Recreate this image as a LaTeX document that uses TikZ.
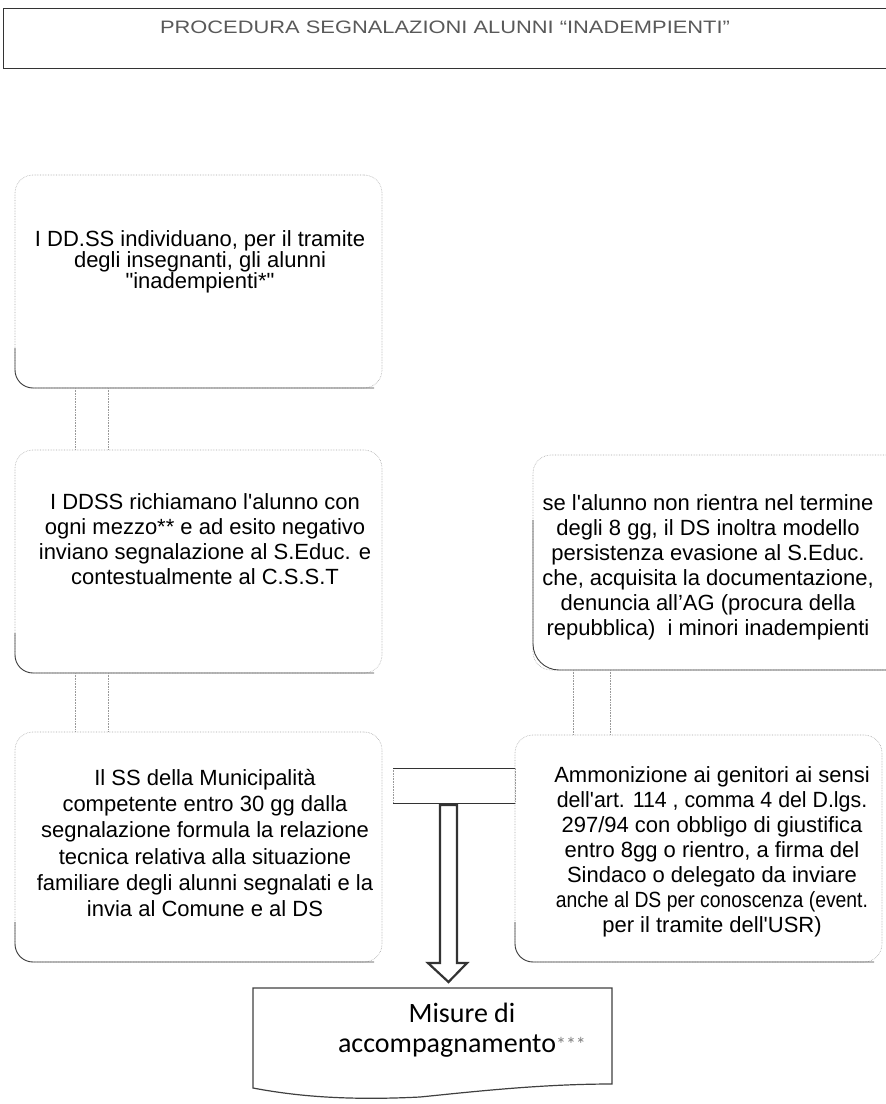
\documentclass[tikz,border=0pt]{standalone}
\usepackage{fontspec}
\setmainfont{Liberation Sans}
\newfontfamily\calfont{Carlito}
\usetikzlibrary{calc}
\newcommand\sq{\textquotesingle}
\newcommand\dq{\textquotedbl}
\begin{document}
\begin{tikzpicture}[x=1pt,y=-1pt,
  card/.style={draw=black!35, densely dotted, line width=0.6pt, rounded corners=18pt, outer sep=0pt, inner sep=0pt},
  cardbase/.style={draw=black!75, line width=0.9pt, rounded corners=18pt},
  boxtext/.style={align=center, inner sep=0pt, font=\fontsize{22}{25}\selectfont},
  link/.style={draw=black!40, densely dotted, line width=0.6pt},
  bar/.style={draw=black!80, line width=0.9pt},
  hollowarrow/.style={draw=black!80, line width=2.2pt, fill=white, line join=miter},
  doc/.style={draw=black!75, line width=1.2pt, fill=white},
  titlebox/.style={draw=black!80, line width=0.8pt, outer sep=0pt, inner sep=0pt}]
\useasboundingbox (0,0) rectangle (886,1104);
\clip (0,0) rectangle (886,1104);

% title
\node[titlebox, anchor=north west, minimum width=900pt, minimum height=60pt] (title) at (3,8) {};
\node[inner sep=0pt, text=black!65, font=\fontsize{18}{20}\selectfont] (tt) at (445,27)
  {\scalebox{1.215}[1]{PROCEDURA SEGNALAZIONI ALUNNI “INADEMPIENTI”}};

% boxes
\node[card, anchor=north west, minimum width=367pt, minimum height=213pt] (b1) at (15,175) {};
\node[card, anchor=north west, minimum width=367pt, minimum height=223pt] (b2) at (15,450) {};
\node[card, anchor=north west, minimum width=367pt, minimum height=230pt] (b3) at (15,732) {};
\node[card, anchor=north west, minimum width=380pt, minimum height=215pt] (b4) at (533,455) {};
\node[card, anchor=north west, minimum width=367pt, minimum height=227pt] (b5) at (515,735) {};

\foreach \b in {b1,b2,b3,b5}
  \draw[cardbase] ([yshift=40pt]\b.south west) -- (\b.south west) -- ([xshift=-8pt]\b.south east);
\draw[cardbase, rounded corners=26pt] ([yshift=150pt]b4.south west) -- (b4.south west) -- (b4.south east);

% texts
\node[boxtext, font=\fontsize{22}{21.3}\selectfont] (t1) at (200,262)
  {I DD.SS individuano, per il tramite\\degli insegnanti, gli alunni\\\dq inadempienti*\dq};
\node[boxtext] (t2) at (205,539)
  {I DDSS richiamano l\sq alunno con\\ogni mezzo** e ad esito negativo\\inviano segnalazione al S.Educ. e\\contestualmente al C.S.S.T};
\node[boxtext, font=\fontsize{22}{26.3}\selectfont] (t3) at (205,843)
  {Il SS della Municipalità\\competente entro 30 gg dalla\\segnalazione formula la relazione\\tecnica relativa alla situazione\\familiare degli alunni segnalati e la\\invia al Comune e al DS};
\node[boxtext] (t4) at (708,567)
  {se l\sq alunno non rientra nel termine\\degli 8 gg, il DS inoltra modello\\persistenza evasione al S.Educ.\\che, acquisita la documentazione,\\denuncia all’AG (procura della\\repubblica)\ \ i minori inadempienti};
\node[boxtext] (t5) at (712,852)
  {Ammonizione ai genitori ai sensi\\\scalebox{0.97}[1]{dell\sq art. 114 , comma 4 del D.lgs.}\\297/94 con obbligo di giustifica\\entro 8gg o rientro, a firma del\\Sindaco o delegato da inviare\\\scalebox{0.88}[1]{anche al DS per conoscenza (event.}\\per il tramite dell\sq USR)};

% vertical faint connectors
\foreach \a/\c/\d in {b1/b2/60, b1/b2/93, b2/b3/60, b2/b3/93, b4/b5/40, b4/b5/77}
  \draw[link] ([xshift=\d pt]\a.south west) -- ([xshift=\d pt]\a.south west |- \c.north);

% horizontal shaft between b3 and b5
\coordinate (hsa) at ([shift={(11pt,79pt)}]b3.east);
\coordinate (hsb) at ([shift={(11pt,44pt)}]b3.east);
\draw[link] (hsa) rectangle (hsb -| b5.west);
\draw[bar] (hsa) -- (hsa -| b5.west);
\draw[bar] (hsb) -- (hsb -| b5.west);

% bottom document box
\draw[doc] (253,988) -- (612,988) -- (612,1084)
  .. controls (540,1084) and (470,1092) .. (420,1097)
  .. controls (340,1101) and (290,1095) .. (253,1088) -- cycle;
\coordinate (mtop) at (448.5,988);
\node[inner sep=0pt, align=center, font=\calfont\fontsize{28}{30}\selectfont] (mt) at (462,1030)
  {Misure di\\accompagnamento{\color{black!50}\raisebox{1pt}{\fontsize{20}{20}\selectfont***}}};

% big hollow arrow
\coordinate (at) at ([xshift=55.5pt]hsb);
\draw[hollowarrow] ($(at)+(-8.5pt,-2pt)$) -- ($(at |- mtop)+(-8.5pt,25pt)$)
  -- ($(at |- mtop)+(-20.5pt,25pt)$) -- ($(at |- mtop)+(0pt,6pt)$)
  -- ($(at |- mtop)+(18.5pt,25pt)$) -- ($(at |- mtop)+(8.5pt,25pt)$)
  -- ($(at)+(8.5pt,-2pt)$) -- cycle;
\end{tikzpicture}
\end{document}
